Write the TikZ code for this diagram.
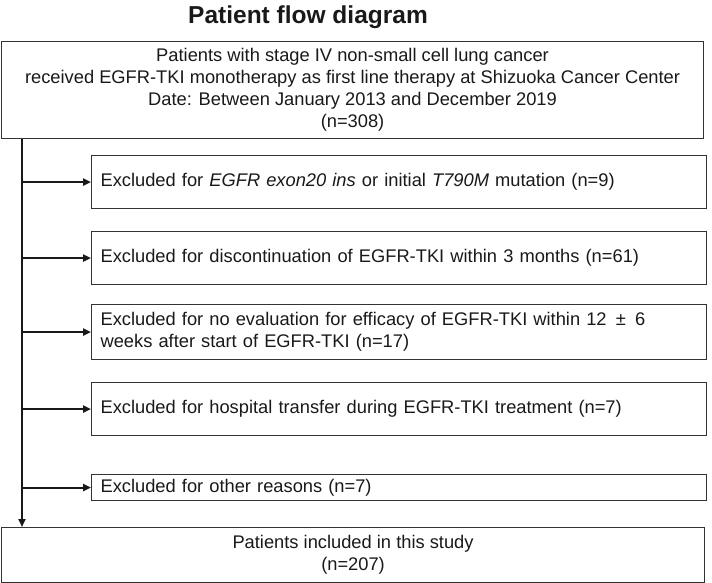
\documentclass[tikz,border=0pt]{standalone}
\usepackage{fontspec}
\setmainfont{Liberation Sans}
\usetikzlibrary{arrows.meta,calc}
\begin{document}
\begin{tikzpicture}[x=1pt,y=-1pt,
  every node/.style={font=\fontsize{18.3}{22}\selectfont, text=black!90},
  box/.style={draw=black!80, line width=1.1pt, rectangle, inner sep=0pt},
  exbox/.style={box, anchor=north west, minimum width=615, align=left, text width=597, inner xsep=9pt},
  arr/.style={line width=2pt, draw=black!90, -{Triangle[length=8pt,width=7pt]}},
  title/.style={font=\fontsize{24.5}{28}\bfseries\selectfont}
]
\useasboundingbox (0,0) rectangle (712,583);
\node[title] (ttl) at (308,17) {Patient flow diagram};
\node[box, anchor=north west, minimum width=702, minimum height=97, align=center, yshift=0pt] (top) at (1,41)
  {Patients with stage IV non-small cell lung cancer\\
   received EGFR-TKI monotherapy as first line therapy at Shizuoka Cancer Center\\
   Date: Between January 2013 and December 2019\\
   (n=308)};
\node[exbox, minimum height=53] (ex1) at (91,155) {Excluded for \textit{EGFR exon20 ins} or initial \textit{T790M} mutation (n=9)};
\node[exbox, minimum height=53] (ex2) at (91,231) {Excluded for discontinuation of EGFR-TKI within 3 months (n=61)};
\node[exbox, minimum height=55] (ex3) at (91,304) {Excluded for no evaluation for efficacy of EGFR-TKI within 12 \,±\, 6\\weeks after start of EGFR-TKI (n=17)};
\node[exbox, minimum height=53] (ex4) at (91,382) {Excluded for hospital transfer during EGFR-TKI treatment (n=7)};
\node[exbox, minimum height=26] (ex5) at (91,474) {Excluded for other reasons (n=7)};
\node[box, anchor=north west, minimum width=703, minimum height=55, align=center] (bot) at (1,527)
  {Patients included in this study\\(n=207)};
\coordinate (vx) at (22,0);
\draw[arr] (top.south -| vx) -- (bot.north -| vx);
\foreach \e in {ex1,ex2,ex3,ex4,ex5} \draw[arr] (\e.west -| vx) -- (\e.west);
\end{tikzpicture}
\end{document}
